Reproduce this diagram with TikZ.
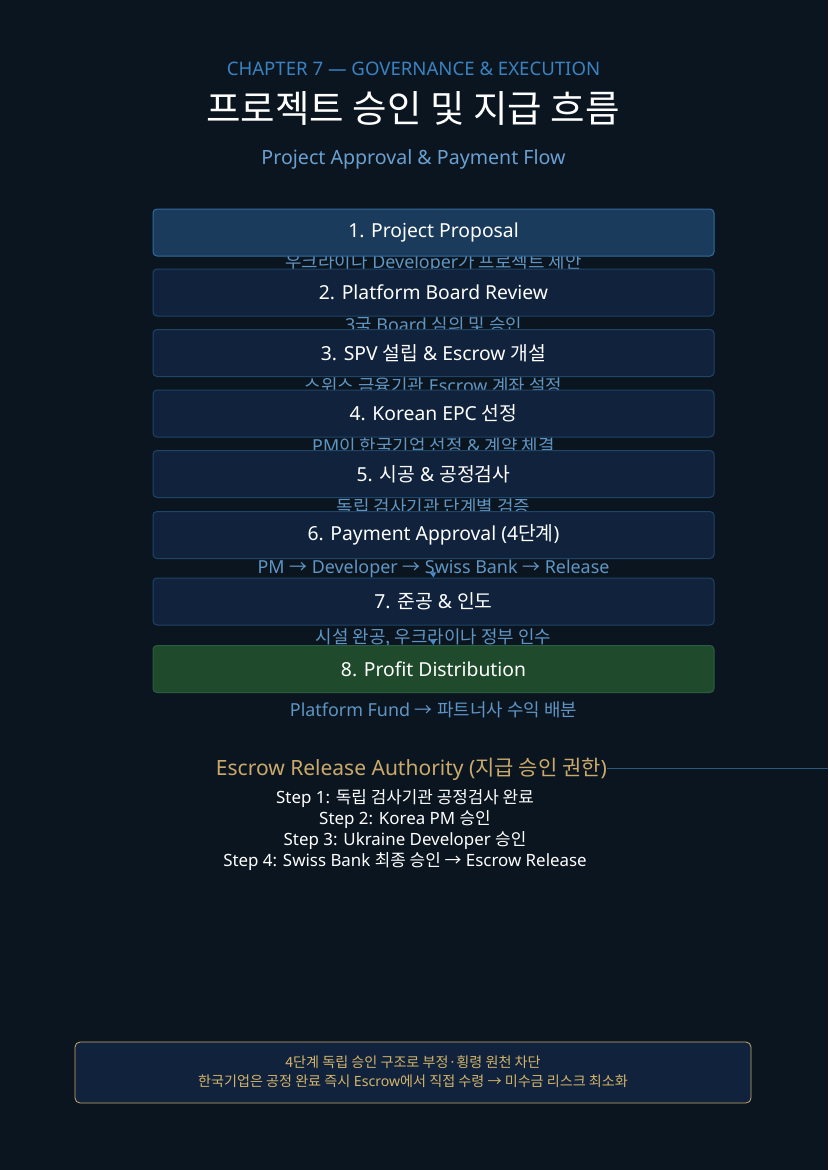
\documentclass[tikz,border=0pt]{standalone}
\usepackage{fontspec}
\setmainfont{Noto Sans}
\newfontfamily\krfont{Noto Sans CJK KR}
\newcommand{\K}[1]{{\krfont #1}}
\usetikzlibrary{arrows.meta}
\definecolor{bg}{HTML}{0B1520}
\definecolor{chap}{HTML}{3A82C0}
\definecolor{subt}{HTML}{6AA0D0}
\definecolor{sublab}{HTML}{5F95C4}
\definecolor{boxfill}{HTML}{10223C}
\definecolor{boxline}{HTML}{1E4466}
\definecolor{firstfill}{HTML}{1B3B5C}
\definecolor{firstline}{HTML}{2F6C9C}
\definecolor{greenfill}{HTML}{1F4A2B}
\definecolor{greenline}{HTML}{2A5E44}
\definecolor{gold}{HTML}{C9AA6C}
\definecolor{goldtext}{HTML}{D4B46A}
\definecolor{rule}{HTML}{2A5A78}
\definecolor{arrowc}{HTML}{4A8CC8}
\newcommand{\fsz}[1]{\fontsize{#1}{#1}\selectfont}
\tikzset{
  stepbox/.style={draw=boxline, fill=boxfill, line width=1pt, rounded corners=4pt,
    minimum width=561pt, minimum height=47pt, inner sep=0pt, text=white, font=\fsz{19.3}},
  sublabel/.style={text=sublab, font=\fsz{17.9}, inner sep=0pt},
  steptext/.style={text=white, font=\fsz{16.9}, inner sep=0pt},
  flowarrow/.style={draw=arrowc, line width=1pt, -{Triangle[length=5pt,width=6pt]}},
}
\begin{document}
\begin{tikzpicture}[x=1pt,y=-1pt]
\fill[bg] (0,0) rectangle (828,1170);
\useasboundingbox (0,0) rectangle (828,1170);

\node[text=chap, font=\fsz{18.6}, inner sep=0pt] (chapter) at (413.5,69) {CHAPTER 7 — GOVERNANCE \& EXECUTION};
\node[text=white, font=\fsz{37.5}, inner sep=0pt] (title) at (413,108) {\K{프로젝트 승인 및 지급 흐름}};
\node[text=subt, font=\fsz{19.6}, inner sep=0pt] (subtitle) at (413.5,159.5) {Project Approval \& Payment Flow};

% sub-labels (drawn first, boxes overlap them)
\node[sublabel] (l1) at (433.5,263.5) {\K{우크라이나} Developer\K{가 프로젝트 제안}};
\node[sublabel] (l2) at (433.5,324.5) {3\K{국} Board \K{심의 및 승인}};
\node[sublabel] (l3) at (433.5,385.5) {\K{스위스 금융기관} Escrow \K{계좌 설정}};
\node[sublabel] (l4) at (433.5,445.5) {PM\K{이 한국기업 선정} \& \K{계약 체결}};
\node[sublabel] (l5) at (433.5,506.5) {\K{독립 검사기관 단계별 검증}};
\node[sublabel] (l6) at (433.5,568.5) {PM \K{→} Developer \K{→} Swiss Bank \K{→} Release};
\node[sublabel] (l7) at (433.5,637.5) {\K{시설 완공, 우크라이나 정부 인수}};
\node[sublabel] (l8) at (433.5,709.5) {Platform Fund \K{→} \K{파트너사 수익 배분}};

% boxes
\node[stepbox, draw=firstline, fill=firstfill] (b1) at (433.5,232.5) {1. Project Proposal};
\node[stepbox] (b2) at (433.5,292.5) {2. Platform Board Review};
\node[stepbox] (b3) at (433.5,353) {3. SPV \K{설립} \& Escrow \K{개설}};
\node[stepbox] (b4) at (433.5,413.5) {4. Korean EPC \K{선정}};
\node[stepbox] (b5) at (433.5,474) {5. \K{시공} \& \K{공정검사}};
\node[stepbox] (b6) at (433.5,535) {6. Payment Approval (4\K{단계})};
\node[stepbox] (b7) at (433.5,601.5) {7. \K{준공} \& \K{인도}};
\node[stepbox, draw=greenline, fill=greenfill] (b8) at (433.5,669) {8. Profit Distribution};

% visible connector arrows
\coordinate (a6) at (433,571);
\coordinate (a7) at (433,640);
\draw[flowarrow] (a6) -- (b7.north);
\draw[flowarrow] (a7) -- (b8.north);

% escrow authority
\node[text=gold, font=\fsz{21}, inner sep=0pt] (esc) at (411.5,769) {Escrow Release Authority (\K{지급 승인 권한})};
\coordinate (escend) at (828,768);
\draw[rule, line width=0.8pt] (esc.east |- escend) -- (escend);
\node[steptext] (s1) at (405,799) {Step 1: \K{독립 검사기관 공정검사 완료}};
\node[steptext] (s2) at (405,820) {Step 2: Korea PM \K{승인}};
\node[steptext] (s3) at (405,841) {Step 3: Ukraine Developer \K{승인}};
\node[steptext] (s4) at (405,862) {Step 4: Swiss Bank \K{최종 승인 →} Escrow Release};

% footer
\node[draw=gold, fill=boxfill, line width=0.8pt, rounded corners=5pt,
  minimum width=676pt, minimum height=61pt, inner sep=0pt] (footer) at (413,1072.5) {};
\node[text=goldtext, font=\fsz{14.1}, inner sep=0pt] (f1) at (413,1062) {\K{4단계 독립 승인 구조로 부정·횡령 원천 차단}};
\node[text=goldtext, font=\fsz{14.1}, inner sep=0pt] (f2) at (413,1081) {\K{한국기업은 공정 완료 즉시} Escrow\K{에서 직접 수령 → 미수금 리스크 최소화}};
\end{tikzpicture}
\end{document}
